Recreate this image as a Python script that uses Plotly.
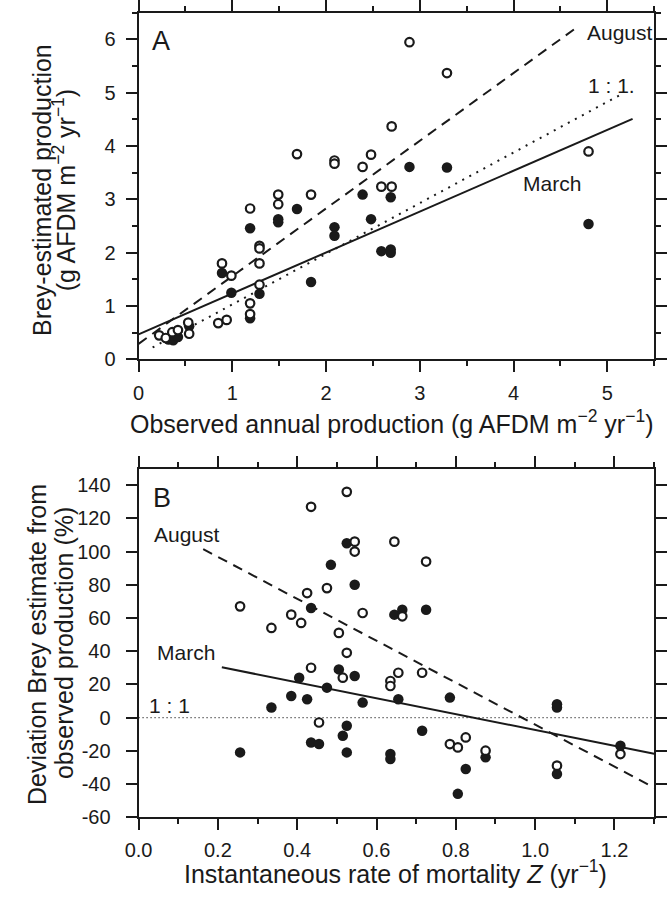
import numpy as np
import plotly.graph_objects as go

# ---------------- Panel A data ----------------
a_open_x = [0.22, 0.29, 0.36, 0.42, 0.53, 0.54, 0.85, 0.94, 0.89, 0.99, 1.19, 1.19, 1.19,
            1.29, 1.29, 1.29, 1.29, 1.49, 1.49, 1.69, 1.84, 2.09, 2.09, 2.39, 2.48, 2.59,
            2.70, 2.70, 2.89, 3.29, 4.80]
a_open_y = [0.45, 0.40, 0.51, 0.55, 0.69, 0.48, 0.68, 0.74, 1.80, 1.57, 2.83, 1.05, 0.85,
            2.13, 2.08, 1.80, 1.40, 3.09, 2.91, 3.85, 3.09, 3.73, 3.67, 3.61, 3.84, 3.24,
            4.37, 3.24, 5.95, 5.37, 3.90]
a_fill_x = [0.32, 0.37, 0.42, 0.54, 0.89, 0.99, 1.19, 1.19, 1.29, 1.49, 1.49, 1.69, 1.84,
            2.09, 2.09, 2.39, 2.48, 2.59, 2.69, 2.69, 2.69, 2.89, 3.29, 4.80]
a_fill_y = [0.37, 0.36, 0.42, 0.62, 1.62, 1.25, 2.46, 0.77, 1.23, 2.63, 2.57, 2.82, 1.45,
            2.48, 2.32, 3.09, 2.63, 2.03, 2.06, 2.00, 3.04, 3.61, 3.60, 2.54]

# fitted lines panel A: [intercept, slope], x extent
a_march_fit = [0.47, 0.767]
a_march_xr = [0.0, 5.27]
a_aug_fit = [0.29, 1.27]
a_aug_xr = [0.0, 4.67]
a_one_fit = [0.08, 0.95]
a_one_xr = [0.15, 5.16]

# ---------------- Panel B data ----------------
b_open_x = [0.525, 0.435, 0.545, 0.545, 0.645, 0.475, 0.425, 0.256, 0.385, 0.41, 0.565,
            0.335, 0.505, 0.525, 0.435, 0.515, 0.455, 0.635, 0.635, 0.655, 0.725, 0.665,
            0.715, 0.785, 0.805, 0.825, 0.875, 1.055, 1.215]
b_open_y = [136, 127, 106, 100, 106, 78, 75, 67, 62, 57, 63,
            54, 51, 39, 30, 24, -3, 22, 19, 27, 94, 61,
            27, -16, -18, -12, -20, -29, -22]
b_fill_x = [0.525, 0.485, 0.545, 0.435, 0.645, 0.665, 0.725, 0.405, 0.505, 0.545, 0.475,
            0.385, 0.425, 0.565, 0.335, 0.655, 0.525, 0.515, 0.435, 0.455, 0.256, 0.525,
            0.635, 0.635, 0.715, 0.785, 0.825, 0.805, 0.875, 1.055, 1.055, 1.055, 1.215]
b_fill_y = [105, 92, 80, 66, 62, 65, 65, 24, 29, 25, 18,
            13, 11, 9, 6, 11, -5, -11, -15, -16, -21, -21,
            -22, -25, -8, 12, -31, -46, -24, 8, 6, -34, -17]

b_march_fit = [40.3, -47.8]
b_march_xr = [0.21, 1.30]
b_aug_fit = [122.1, -126.4]
b_aug_xr = [0.163, 1.30]
b_one_fit = [0.0, 0.0]
b_one_xr = [0.0, 1.30]

a_xticks = [0, 1, 2, 3, 4, 5]
a_yticks = [0, 1, 2, 3, 4, 5, 6]
b_xticks = [0.0, 0.2, 0.4, 0.6, 0.8, 1.0, 1.2]
b_yticks = [-60, -40, -20, 0, 20, 40, 60, 80, 100, 120, 140]
b_yticklabels = ["-60", "-40", "-20", "0", "20", "40", "60", "80", "100", "120", "140"]

FONT = "Liberation Sans, Arial, sans-serif"
INK = "#1a1a1a"
W, H = 667, 897


def line_pts(fit, xr):
    xs = np.array(xr, dtype=float)
    return xs, fit[0] + fit[1] * xs


fig = go.Figure()

for xa, ya, fits in [
    ("x", "y", [(a_march_fit, a_march_xr, "solid", 2), (a_aug_fit, a_aug_xr, "10px,7px", 2),
                (a_one_fit, a_one_xr, "2px,6px", 2)]),
    ("x2", "y2", [(b_march_fit, b_march_xr, "solid", 2), (b_aug_fit, b_aug_xr, "10px,7px", 2),
                  (b_one_fit, b_one_xr, "1px,3px", 1.3)]),
]:
    for fit, xr, dash, lw in fits:
        lx, ly = line_pts(fit, xr)
        fig.add_trace(go.Scatter(x=lx, y=ly, mode="lines", xaxis=xa, yaxis=ya,
                                 line=dict(color=INK, width=lw, dash=dash),
                                 showlegend=False, hoverinfo="skip"))

for xs, ys, xa, ya, is_open in [
    (a_fill_x, a_fill_y, "x", "y", False), (a_open_x, a_open_y, "x", "y", True),
    (b_fill_x, b_fill_y, "x2", "y2", False), (b_open_x, b_open_y, "x2", "y2", True),
]:
    if is_open:
        mk = dict(symbol="circle", size=8.5, color="white", line=dict(width=2.2, color=INK))
    else:
        mk = dict(symbol="circle", size=10.5, color=INK, line=dict(width=0))
    fig.add_trace(go.Scatter(x=xs, y=ys, mode="markers", xaxis=xa, yaxis=ya, marker=mk,
                             showlegend=False))

axis_common = dict(showline=True, linewidth=2, linecolor=INK, mirror="ticks",
                   ticks="outside", ticklen=11, tickwidth=2, tickcolor=INK,
                   showgrid=False, zeroline=False,
                   tickfont=dict(family=FONT, size=20, color=INK))
minor_common = dict(ticklen=5, tickwidth=2, tickcolor=INK, ticks="outside")

xdom = [129 / W, 663 / W]
fig.update_layout(
    width=W, height=H,
    margin=dict(l=0, r=0, t=0, b=0),
    paper_bgcolor="white", plot_bgcolor="white",
    font=dict(family=FONT, color=INK),
    xaxis=dict(axis_common, domain=xdom, range=[0, 5.5], tickvals=a_xticks, anchor="y",
               ticklabelstandoff=4, minor=dict(minor_common, dtick=0.5)),
    yaxis=dict(axis_common, domain=[1 - 362 / H, 1 - 10 / H], range=[0, 6.5], tickvals=a_yticks,
               anchor="x", ticklabelstandoff=6, minor=dict(minor_common, dtick=0.5)),
    xaxis2=dict(axis_common, domain=xdom, range=[0, 1.3], tickvals=b_xticks, tickformat=".1f",
                anchor="y2", ticklabelstandoff=3, minor=dict(minor_common, dtick=0.1)),
    yaxis2=dict(axis_common, domain=[1 - 827 / H, 1 - 473 / H], range=[-60, 150],
                tickvals=b_yticks, ticktext=b_yticklabels, anchor="x2", ticklabelstandoff=11),
)


def pann(text, xpx, ypx, size=25, angle=0):
    fig.add_annotation(text=text, xref="paper", yref="paper", x=xpx / W, y=1 - ypx / H,
                       xanchor="center", yanchor="middle", showarrow=False, textangle=angle,
                       font=dict(family=FONT, size=size, color=INK))


# axis titles
pann("Observed annual production (g AFDM m<sup>−2</sup> yr<sup>−1</sup>)", 391, 426)
pann("Brey-estimated production", 29, 190, 25, -90)
pann("(g AFDM m<sup>−2</sup> yr<sup>−1</sup>)", 52, 190, 25, -90)
pann("Instantaneous rate of mortality <i>Z</i> (yr<sup>−1</sup>)", 395, 883)
pann("Deviation Brey estimate from", 24, 652, 25, -90)
pann("observed production (%)", 52, 650, 25, -90)


# in-plot labels (data coordinates)
def dann(text, x, y, xa, ya, size=21):
    fig.add_annotation(text=text, xref=xa, yref=ya, x=x, y=y, xanchor="center", yanchor="middle",
                       showarrow=False, font=dict(family=FONT, size=size, color=INK))


dann("A", 0.235, 5.97, "x", "y", 27)
dann("August", 5.14, 6.13, "x", "y")
dann("1 : 1.", 5.04, 5.14, "x", "y")
dann("March", 4.41, 3.30, "x", "y")
dann("B", 0.058, 132, "x2", "y2", 27)
dann("August", 0.122, 110, "x2", "y2")
dann("March", 0.12, 39, "x2", "y2")
dann("1 : 1", 0.078, 7.5, "x2", "y2")

fig.write_html("out.html")
